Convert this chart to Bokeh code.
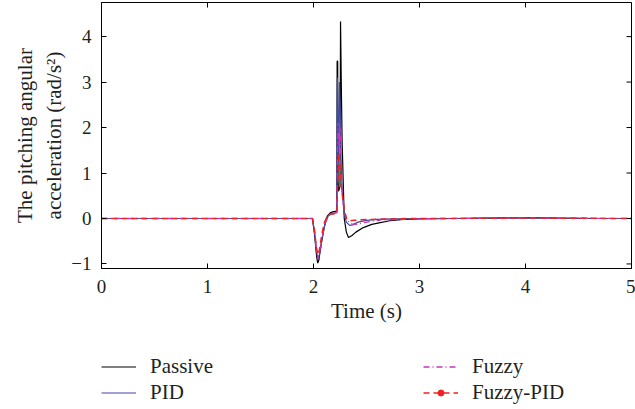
import math
from bokeh.plotting import figure
from bokeh.layouts import column
from bokeh.models import (Legend, LegendItem, FixedTicker, Range1d)
from bokeh.embed import file_html
from bokeh.resources import INLINE

# ---- data ----
t_passive = [0, 1.99, 2.01, 2.03, 2.04, 2.05, 2.07, 2.10, 2.13, 2.16, 2.19, 2.22,
             2.223, 2.228, 2.232, 2.236, 2.25, 2.255, 2.262, 2.27, 2.29, 2.31, 2.33,
             2.36, 2.40, 2.47, 2.55, 2.63, 2.72, 2.85, 3.0, 3.3, 3.7, 4.0, 4.3, 4.7, 5.0]
y_passive = [0, 0, -0.35, -0.85, -0.98, -0.92, -0.6, -0.2, 0.05, 0.13, 0.15, 0.16,
             3.46, 3.46, 0.8, 0.6, 0.7, 4.33, 3.0, 1.7, 0.0, -0.3, -0.42,
             -0.38, -0.3, -0.2, -0.13, -0.09, -0.05, -0.02, -0.01, 0.0, 0.01, 0.02, 0.01, 0.0, 0.0]

t_pid = [0, 1.99, 2.01, 2.03, 2.045, 2.06, 2.08, 2.11, 2.14, 2.17, 2.20, 2.22,
         2.225, 2.235, 2.245, 2.25, 2.26, 2.27, 2.29, 2.31, 2.34, 2.37, 2.42, 2.5,
         2.6, 2.75, 3.0, 3.5, 4.0, 4.5, 5.0]
y_pid = [0, 0, -0.3, -0.75, -0.88, -0.75, -0.45, -0.1, 0.06, 0.1, 0.12, 0.13,
         3.1, 1.2, 3.0, 2.6, 1.3, 0.6, 0.1, -0.08, -0.15, -0.14, -0.08, -0.04,
         -0.02, -0.01, 0, 0.005, 0.015, 0.005, 0]

t_fuzzy = [0, 1.99, 2.01, 2.03, 2.045, 2.06, 2.08, 2.11, 2.14, 2.17, 2.20, 2.22,
           2.23, 2.24, 2.25, 2.26, 2.27, 2.29, 2.32, 2.36, 2.40, 2.46, 2.55, 2.62,
           2.66, 2.68, 2.70, 2.75, 2.9, 3.2, 3.6, 4.0, 4.5, 5.0]
y_fuzzy = [0, 0, -0.3, -0.75, -0.87, -0.75, -0.45, -0.1, 0.06, 0.1, 0.12, 0.13,
           2.1, 1.6, 2.0, 1.2, 0.6, 0.15, -0.05, -0.12, -0.13, -0.1, -0.06, -0.04,
           -0.01, -0.07, -0.02, -0.03, -0.01, 0, 0.005, 0.015, 0.005, 0]

t_fpid = [0, 1.99, 2.01, 2.025, 2.04, 2.055, 2.075, 2.10, 2.13, 2.16, 2.19, 2.22,
          2.23, 2.24, 2.25, 2.26, 2.275, 2.29, 2.31, 2.34, 2.38, 2.45, 2.55, 2.7,
          2.9, 3.2, 3.6, 4.0, 4.5, 5.0]
y_fpid = [0, 0, -0.25, -0.6, -0.8, -0.7, -0.4, -0.1, 0.05, 0.1, 0.1, 0.12,
          1.0, 1.45, 1.1, 0.8, 0.45, 0.2, 0.0, -0.05, -0.04, -0.03, -0.02, -0.01,
          0, 0, 0.005, 0.01, 0.005, 0]

x_ticks = [0, 1, 2, 3, 4, 5]
y_ticks = [-1, 0, 1, 2, 3, 4]
x_min, x_max = 0, 5
y_min, y_max = -1.1, 4.75
labels = ["Passive", "PID", "Fuzzy", "Fuzzy-PID"]
colors = ["#000000", "#3f4aa6", "#cc33bb", "#ee2222"]
dashes = ["solid", "solid", "6 3 1 3", "6 4"]
widths = [1.2, 1.2, 1.3, 1.5]

FONT = "Liberation Serif"
TXT = "#231f20"

p = figure(width=635, height=340, output_backend="svg", toolbar_location=None,
           x_range=Range1d(x_min, x_max), y_range=Range1d(y_min, y_max),
           min_border_left=101, min_border_right=4, min_border_top=2,
           min_border_bottom=72)
p.background_fill_color = "white"
p.border_fill_color = "white"
p.outline_line_color = "black"
p.outline_line_width = 1
p.grid.visible = False

series = [(t_passive, y_passive), (t_pid, y_pid), (t_fuzzy, y_fuzzy), (t_fpid, y_fpid)]
for (tx, ty), c, d, w in zip(series, colors, dashes, widths):
    p.line(tx, ty, line_color=c, line_width=w, line_dash=d)

# inner ticks on the top and right frame edges
p.scatter(x=x_ticks, y=[y_max] * len(x_ticks), marker="dash", size=10,
          angle=math.pi / 2, line_color="black", line_width=1)
p.scatter(x=[x_max] * len(y_ticks), y=y_ticks, marker="dash", size=10,
          line_color="black", line_width=1)

for ax in (p.xaxis[0], p.yaxis[0]):
    ax.major_tick_in = 5
    ax.major_tick_out = 0
    ax.minor_tick_line_color = None
    ax.axis_line_color = "black"
    ax.major_tick_line_color = "black"
    ax.major_label_text_font = FONT
    ax.major_label_text_font_size = "19px"
    ax.major_label_text_color = TXT
    ax.axis_label_text_font = FONT
    ax.axis_label_text_font_size = "21px"
    ax.axis_label_text_font_style = "normal"
    ax.axis_label_text_color = TXT

p.xaxis[0].ticker = FixedTicker(ticks=x_ticks)
p.yaxis[0].ticker = FixedTicker(ticks=y_ticks)
p.yaxis[0].major_label_overrides = {-1: "\u22121"}
p.xaxis[0].axis_label = "Time (s)"
p.xaxis[0].major_label_standoff = 11
p.xaxis[0].axis_label_standoff = 3
p.yaxis[0].axis_label = "The pitching angular\nacceleration (rad/s\u00b2)"
p.yaxis[0].major_label_standoff = 10
p.yaxis[0].axis_label_standoff = 2

# ---- legend strip below the plot (its lines are kept out of view) ----
q = figure(width=635, height=69, output_backend="svg", toolbar_location=None,
           x_range=Range1d(x_min, x_max), y_range=Range1d(100, 101),
           x_axis_type=None, y_axis_type=None,
           min_border_left=101, min_border_top=14, min_border_right=0,
           min_border_bottom=0)
q.outline_line_color = None
q.grid.visible = False
q.background_fill_color = "white"
q.border_fill_color = "white"

items = []
for (tx, ty), lab, c, d, w in zip(series, labels, colors, dashes, widths):
    r = q.line(tx, ty, line_color=c, line_width=w, line_dash=d)
    rs = [r]
    if lab == "Fuzzy-PID":
        rs.append(q.scatter(tx, ty, marker="circle", size=3.5,
                            fill_color=c, line_color=c))
    items.append(LegendItem(label=lab, renderers=rs))

legend = Legend(items=items, location="top_left", ncols=2, glyph_width=35,
                glyph_height=15, label_standoff=14, label_height=25,
                label_width=272, spacing=1, padding=0, margin=0,
                border_line_color=None, background_fill_alpha=0,
                label_text_font=FONT, label_text_font_size="21px",
                label_text_color=TXT)
q.add_layout(legend, "center")

layout = column(p, q, spacing=0)
open("out.html", "w").write(file_html(layout, INLINE))
